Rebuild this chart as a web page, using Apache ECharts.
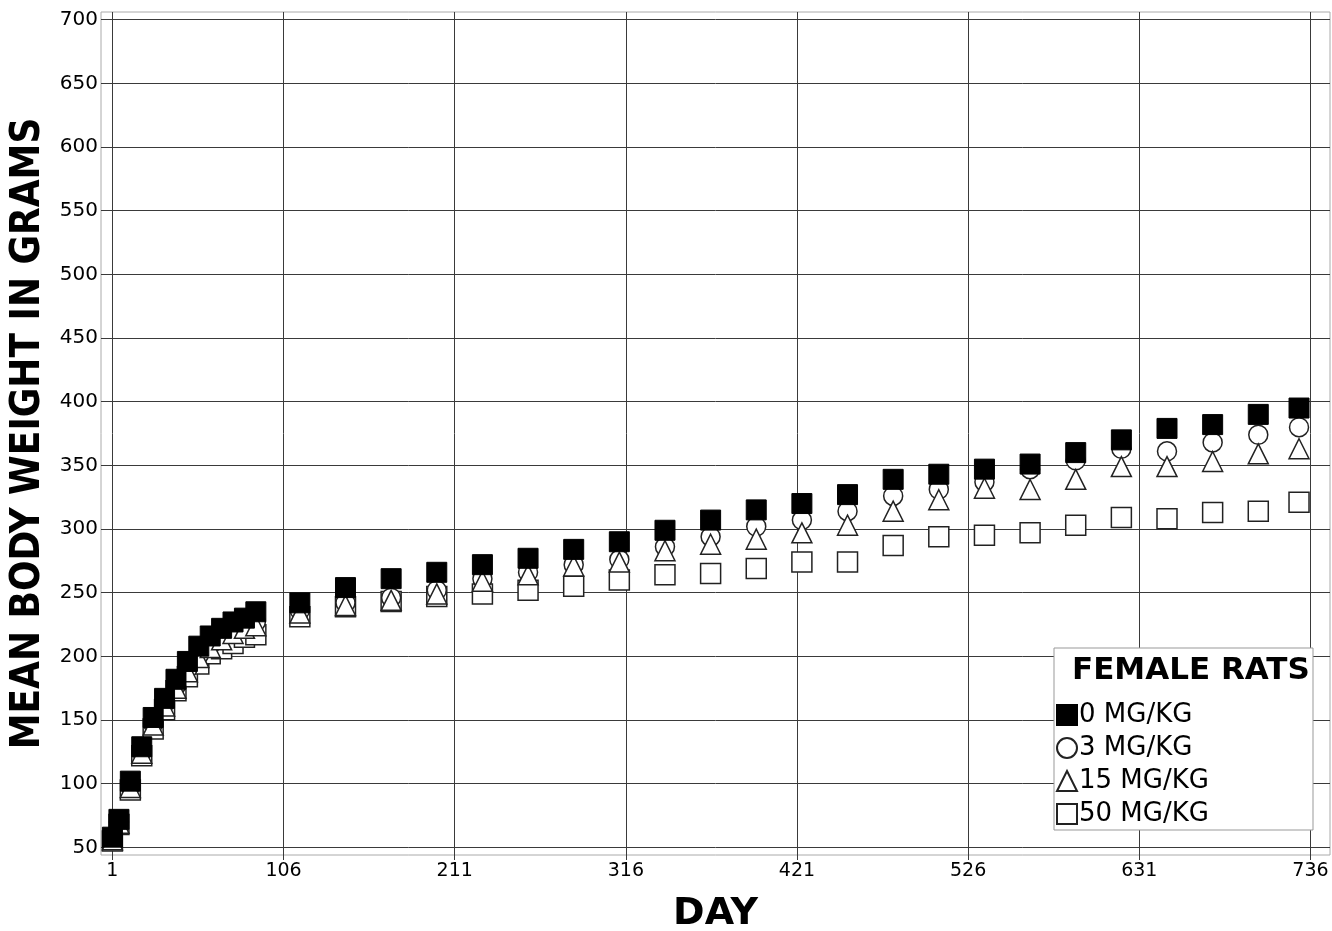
<!DOCTYPE html>
<html>
<head>
<meta charset="utf-8">
<script src="https://cdn.jsdelivr.net/npm/echarts@6/dist/echarts.min.js"></script>
<style>
  html, body { margin: 0; padding: 0; background: #fff; }
  #main { width: 1332px; height: 931px; }
</style>
</head>
<body>
<div id="main"></div>
<script>
// study days (weekly at first, then every 4 weeks)
var days = [1, 5, 12, 19, 26, 33, 40, 47, 54, 61, 68, 75, 82, 89,
  116, 144, 172, 200, 228, 256, 284, 312, 340, 368, 396, 424, 452, 480,
  508, 536, 564, 592, 620, 648, 676, 704, 729];

// mean body weight, grams
var dose0 = [58, 72, 102, 129, 152, 167, 182, 196, 208, 216, 222, 227, 230, 235,
  242, 254, 261, 266, 272, 277, 284, 290, 299, 307, 315, 320, 327, 339,
  343, 347, 351, 360, 370, 379, 382, 390, 395];
var dose3 = [57, 70, 98, 125, 147, 163, 177, 190, 201, 209, 215, 220, 224, 227,
  236, 242, 246, 252, 261, 266, 272, 276, 286, 294, 302, 307, 314, 326,
  331, 337, 347, 354, 363, 361, 368, 374, 380];
var dose15 = [56, 69, 97, 124, 146, 161, 175, 188, 199, 207, 213, 218, 222, 224,
  234, 240, 244, 249, 259, 264, 271, 274, 283, 288, 292, 297, 303, 314,
  323, 332, 331, 339, 349, 349, 353, 359, 363];
var dose50 = [55, 68, 95, 122, 143, 158, 173, 184, 194, 202, 206, 210, 215, 217,
  231, 239, 243, 247, 249, 252, 255, 260, 264, 265, 269, 274, 274, 287,
  294, 295, 297, 303, 309, 308, 313, 314, 321];

var xTicks = [1, 106, 211, 316, 421, 526, 631, 736];
var yTicks = [50, 100, 150, 200, 250, 300, 350, 400, 450, 500, 550, 600, 650, 700];
var seriesNames = ['0 MG/KG', '3 MG/KG', '15 MG/KG', '50 MG/KG'];

function pairs(vals) {
  return days.map(function (d, i) { return [d, vals[i]]; });
}

var myChart = echarts.init(document.getElementById('main'));

var gridColor = '#3a3a3a';
var font = 'DejaVu Sans';

var option = {
  animation: false,
  grid: {
    left: 101, right: 2, top: 12, bottom: 76,
    outerBoundsMode: 'none',
    containLabel: false,
    show: true, borderColor: '#aaa', borderWidth: 1, backgroundColor: '#fff'
  },
  xAxis: {
    type: 'value',
    min: -6, max: 748,
    name: 'DAY',
    nameLocation: 'middle',
    nameGap: 40,
    nameTextStyle: { fontFamily: font, fontWeight: 'bold', fontSize: 38, color: '#000' },
    axisLine: { show: false },
    axisTick: { show: true, length: 5, inside: false, customValues: xTicks, lineStyle: { color: gridColor } },
    axisLabel: { customValues: xTicks, fontFamily: font, fontSize: 19, color: '#000', margin: 7 },
    splitLine: { show: true, lineStyle: { color: gridColor, width: 1 } }
  },
  yAxis: {
    type: 'value',
    min: 44, max: 706,
    name: 'MEAN BODY WEIGHT IN GRAMS',
    nameLocation: 'middle',
    nameRotate: 90,
    nameGap: 47,
    nameTextStyle: { fontFamily: 'DejaVu Sans Condensed', fontWeight: 'bold', fontSize: 40, color: '#000' },
    axisLine: { show: false },
    axisTick: { show: true, length: 5, customValues: yTicks, lineStyle: { color: gridColor } },
    axisLabel: { customValues: yTicks, fontFamily: font, fontSize: 20, color: '#000', margin: 3 },
    splitLine: { show: true, lineStyle: { color: gridColor, width: 1 } }
  },
  legend: {
    orient: 'vertical',
    left: 1056, top: 702,
    itemWidth: 20, itemHeight: 20,
    itemGap: 7,
    padding: 0,
    z: 8,
    textStyle: { fontFamily: font, fontSize: 26, color: '#000', padding: [0, 0, 0, -3] },
    data: [
      { name: seriesNames[0], icon: 'rect' },
      { name: seriesNames[1], icon: 'circle' },
      { name: seriesNames[2], icon: 'triangle' },
      { name: seriesNames[3], icon: 'rect' }
    ]
  },
  graphic: [
    {
      type: 'rect', z: 7,
      shape: { x: 1054, y: 648, width: 259, height: 182 },
      style: { fill: '#fff', stroke: '#999', lineWidth: 1 }
    },
    {
      type: 'text', z: 9,
      x: 1072, y: 655,
      style: { text: 'FEMALE RATS', fontFamily: font, fontWeight: 'bold', fontSize: 31, fill: '#000' }
    }
  ],
  series: [
    {
      name: seriesNames[3], type: 'scatter', symbol: 'rect', symbolSize: 20, z: 2,
      itemStyle: { color: '#fff', borderColor: '#222', borderWidth: 1.5, opacity: 1 },
      data: pairs(dose50)
    },
    {
      name: seriesNames[1], type: 'scatter', symbol: 'circle', symbolSize: 19, z: 3,
      itemStyle: { color: '#fff', borderColor: '#222', borderWidth: 1.5, opacity: 1 },
      data: pairs(dose3)
    },
    {
      name: seriesNames[2], type: 'scatter', symbol: 'triangle', symbolSize: 20, z: 4,
      itemStyle: { color: '#fff', borderColor: '#222', borderWidth: 1.5, opacity: 1 },
      data: pairs(dose15)
    },
    {
      name: seriesNames[0], type: 'scatter', symbol: 'rect', symbolSize: 20, z: 5,
      itemStyle: { color: '#000', borderColor: '#000', borderWidth: 1, opacity: 1 },
      data: pairs(dose0)
    }
  ]
};

myChart.setOption(option);
</script>
</body>
</html>
